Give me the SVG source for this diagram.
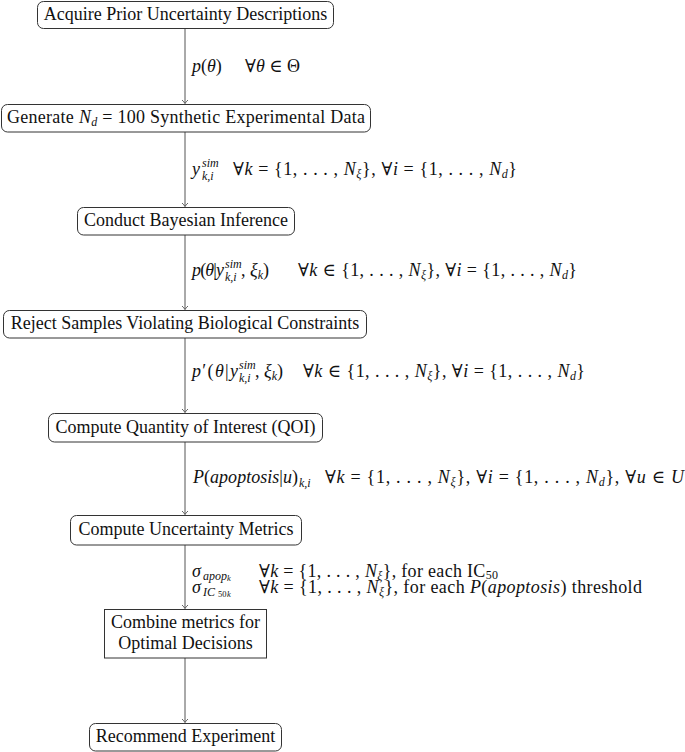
<svg xmlns="http://www.w3.org/2000/svg" width="685" height="752" viewBox="0 0 685 752">
<defs>
<style>
text{font-family:"Liberation Serif","DejaVu Serif",serif;font-size:18px;fill:#111}
.nd rect{fill:#fff;stroke:#333;stroke-width:1}
.nt{text-anchor:middle}
.it{font-style:italic}
.s{font-size:12px}
.ss{font-size:8.5px}
#edges line{stroke:#555;stroke-width:1}
</style>
<marker id="ah" markerWidth="8" markerHeight="8" refX="0" refY="0" viewBox="-5 -4 6 8" orient="auto" markerUnits="userSpaceOnUse">
<path d="M-3.5,-3 Q-1.5,-0.8 0,0 Q-1.5,0.8 -3.5,3" fill="none" stroke="#555" stroke-width="0.9"/>
</marker>
</defs>
<rect width="685" height="752" fill="#fff"/>

<g id="edges">
<line x1="185" y1="28" x2="185" y2="103.5" marker-end="url(#ah)"/>
<line x1="185" y1="132" x2="185" y2="206.5" marker-end="url(#ah)"/>
<line x1="185" y1="235" x2="185" y2="309.5" marker-end="url(#ah)"/>
<line x1="185" y1="338" x2="185" y2="412.5" marker-end="url(#ah)"/>
<line x1="185" y1="442" x2="185" y2="514.5" marker-end="url(#ah)"/>
<line x1="185" y1="545" x2="185" y2="608.5" marker-end="url(#ah)"/>
<line x1="185" y1="658" x2="185" y2="722.5" marker-end="url(#ah)"/>
</g>

<g id="edge-labels">
<text x="192" y="72"><tspan class="it">p</tspan>(<tspan class="it">θ</tspan>)</text>
<text x="245" y="72">∀<tspan class="it">θ</tspan> ∈ Θ</text>

<text x="192" y="175" class="it">y</text>
<text x="202" y="166.5" class="it s">sim</text>
<text x="202" y="180" class="it s">k,i</text>
<text x="233" y="175" textLength="284">∀<tspan class="it">k</tspan> = {1, . . . , <tspan class="it">N</tspan><tspan class="s it" dy="3">ξ</tspan><tspan dy="-3">}, ∀</tspan><tspan class="it">i</tspan> = {1, . . . , <tspan class="it">N</tspan><tspan class="s it" dy="3">d</tspan><tspan dy="-3">}</tspan></text>

<text x="192" y="276" textLength="32"><tspan class="it">p</tspan>(<tspan class="it">θ</tspan>|<tspan class="it">y</tspan></text>
<text x="225" y="267.5" class="it s">sim</text>
<text x="225" y="281" class="it s">k,i</text>
<text x="241" y="276">, <tspan class="it">ξ</tspan><tspan class="s it" dy="3">k</tspan><tspan dy="-3">)</tspan></text>
<text x="298" y="276" textLength="279">∀<tspan class="it">k</tspan> ∈ {1, . . . , <tspan class="it">N</tspan><tspan class="s it" dy="3">ξ</tspan><tspan dy="-3">}, ∀</tspan><tspan class="it">i</tspan> = {1, . . . , <tspan class="it">N</tspan><tspan class="s it" dy="3">d</tspan><tspan dy="-3">}</tspan></text>

<text x="192" y="377" textLength="46"><tspan class="it">p</tspan>′(<tspan class="it">θ</tspan>|<tspan class="it">y</tspan></text>
<text x="239" y="368.5" class="it s">sim</text>
<text x="239" y="382" class="it s">k,i</text>
<text x="255" y="377">, <tspan class="it">ξ</tspan><tspan class="s it" dy="3">k</tspan><tspan dy="-3">)</tspan></text>
<text x="303" y="377" textLength="282">∀<tspan class="it">k</tspan> ∈ {1, . . . , <tspan class="it">N</tspan><tspan class="s it" dy="3">ξ</tspan><tspan dy="-3">}, ∀</tspan><tspan class="it">i</tspan> = {1, . . . , <tspan class="it">N</tspan><tspan class="s it" dy="3">d</tspan><tspan dy="-3">}</tspan></text>

<text x="193" y="483" textLength="105"><tspan class="it">P</tspan>(<tspan class="it">apoptosis</tspan>|<tspan class="it">u</tspan>)</text>
<text x="299" y="486.5" class="it s">k,i</text>
<text x="325" y="483" textLength="359">∀<tspan class="it">k</tspan> = {1, . . . , <tspan class="it">N</tspan><tspan class="s it" dy="3">ξ</tspan><tspan dy="-3">}, ∀</tspan><tspan class="it">i</tspan> = {1, . . . , <tspan class="it">N</tspan><tspan class="s it" dy="3">d</tspan><tspan dy="-3">}, ∀</tspan><tspan class="it">u</tspan> ∈ <tspan class="it">U</tspan></text>

<text x="192" y="577" class="it">σ</text>
<text x="203" y="579.5" class="it s">apop</text>
<text x="227" y="581" class="it ss">k</text>
<text x="259" y="577" textLength="239">∀<tspan class="it">k</tspan> = {1, . . . , <tspan class="it">N</tspan><tspan class="s it" dy="2.5">ξ</tspan><tspan dy="-2.5">}, for each IC</tspan><tspan class="s" dy="1.5">50</tspan></text>

<text x="192" y="593" class="it">σ</text>
<text x="203" y="595.5" class="it s">IC</text>
<text x="218" y="597" class="ss">50</text><text x="227" y="597" class="it ss">k</text>
<text x="259" y="593" textLength="383">∀<tspan class="it">k</tspan> = {1, . . . , <tspan class="it">N</tspan><tspan class="s it" dy="2.5">ξ</tspan><tspan dy="-2.5">}, for each </tspan><tspan class="it">P</tspan>(<tspan class="it">apoptosis</tspan>) threshold</text>
</g>

<g id="n1" class="nd"><rect x="37.5" y="1.5" width="296" height="27" rx="6"/><text class="nt" x="185.5" y="20">Acquire Prior Uncertainty Descriptions</text></g>
<g id="n2" class="nd"><rect x="1.5" y="104.5" width="369" height="27.5" rx="6"/><text x="7" y="123" textLength="358">Generate <tspan class="it">N</tspan><tspan class="s it" dy="3">d</tspan><tspan dy="-3"> = 100 Synthetic Experimental Data</tspan></text></g>
<g id="n3" class="nd"><rect x="77.5" y="207.5" width="217" height="27.5" rx="6"/><text class="nt" x="186" y="226">Conduct Bayesian Inference</text></g>
<g id="n4" class="nd"><rect x="3.5" y="310.5" width="363" height="27.5" rx="6"/><text class="nt" x="185" y="329">Reject Samples Violating Biological Constraints</text></g>
<g id="n5" class="nd"><rect x="48.5" y="413.5" width="274" height="28.5" rx="6"/><text class="nt" x="185.5" y="433">Compute Quantity of Interest (QOI)</text></g>
<g id="n6" class="nd"><rect x="70.5" y="515.5" width="231" height="29.5" rx="6"/><text class="nt" x="186" y="535">Compute Uncertainty Metrics</text></g>
<g id="n7" class="nd"><rect x="104.5" y="609.5" width="162" height="48.5"/><text class="nt" x="185.5" y="628">Combine metrics for</text><text class="nt" x="185.5" y="649">Optimal Decisions</text></g>
<g id="n8" class="nd"><rect x="89.5" y="723.5" width="192" height="27.5" rx="6"/><text class="nt" x="185.5" y="742">Recommend Experiment</text></g>
</svg>
